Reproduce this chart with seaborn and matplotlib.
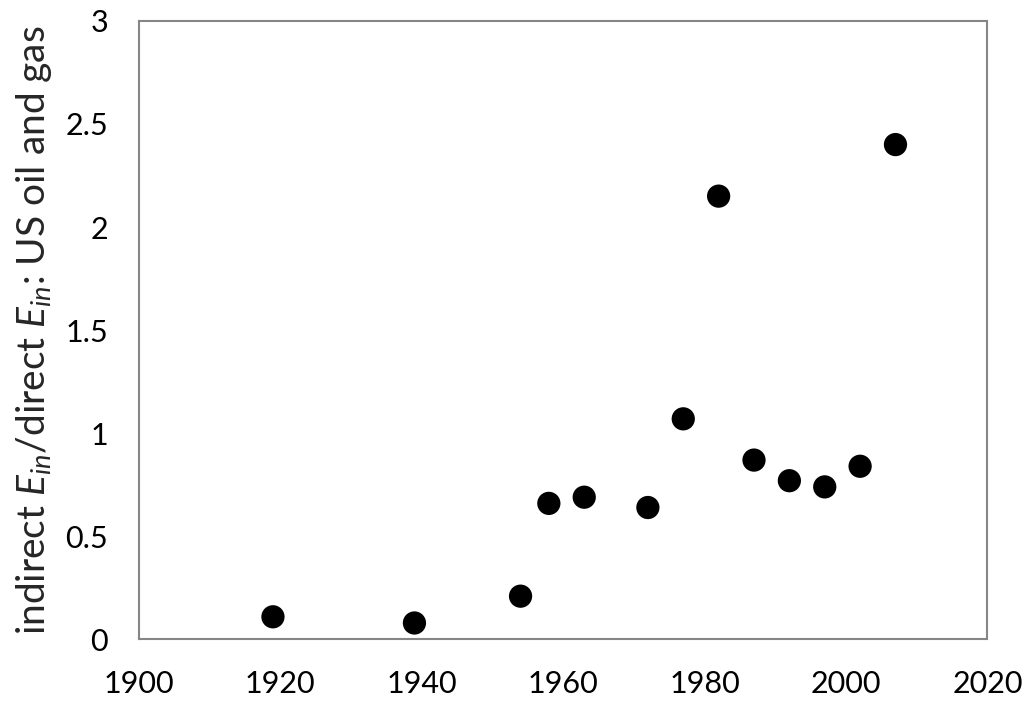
import matplotlib
matplotlib.use("Agg")
import pandas as pd
import seaborn as sns
import matplotlib.pyplot as plt

# values
years = [1919, 1939, 1954, 1958, 1963, 1972, 1977, 1982, 1987, 1992, 1997, 2002, 2007]
ratio = [0.11, 0.08, 0.21, 0.66, 0.69, 0.64, 1.07, 2.15, 0.87, 0.77, 0.74, 0.84, 2.40]

df = pd.DataFrame({'year': years, 'ratio': ratio})

sns.set_style('white')
plt.rcParams['font.family'] = ['Lato', 'DejaVu Sans']
plt.rcParams['mathtext.fontset'] = 'custom'
plt.rcParams['mathtext.rm'] = 'Lato'
plt.rcParams['mathtext.it'] = 'Lato:italic'

fig = plt.figure(figsize=(10.24, 7.07), dpi=100)
ax = fig.add_axes([0.1353, 0.0955, 0.829, 0.875])

sns.scatterplot(data=df, x='year', y='ratio', ax=ax, color='black', s=280,
                edgecolor='none', legend=False)

ax.set_xlim(1900, 2020)
ax.set_ylim(0, 3)
ax.set_xticks(range(1900, 2021, 20))
ax.set_yticks([0, 0.5, 1, 1.5, 2, 2.5, 3])
ax.set_yticklabels(['0', '0.5', '1', '1.5', '2', '2.5', '3'])

for sp in ax.spines.values():
    sp.set_color('#868686')
    sp.set_linewidth(1.5)

ax.tick_params(axis='both', direction='in', length=8, width=1.5, color='#868686',
               labelsize=22, labelcolor='black')
ax.tick_params(axis='x', pad=22)
ax.tick_params(axis='y', pad=22)

ax.set_xlabel('')
ax.set_ylabel(r'indirect $E_{in}$/direct $E_{in}$: US oil and gas', fontsize=28, labelpad=8)

fig.savefig('out.png', dpi=100)
